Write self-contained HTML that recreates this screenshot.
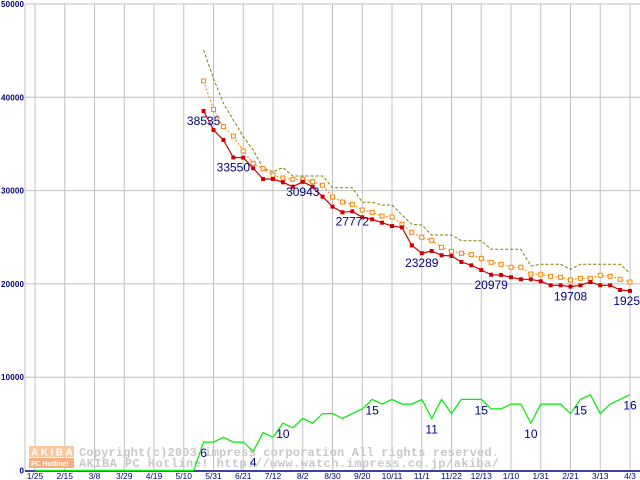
<!DOCTYPE html>
<html><head><meta charset="utf-8"><style>
body{margin:0;background:#fff}
svg{display:block}
text{font-family:"Liberation Sans",sans-serif}
</style></head><body>
<svg id="chart" width="640" height="480" viewBox="0 0 640 480" xmlns="http://www.w3.org/2000/svg">
<g id="grid"></g>
<g id="axes"></g>
<g id="wm">
 <rect x="29" y="446" width="45" height="11" fill="#f8c8a0"/>
 <rect x="29" y="458" width="45" height="10" fill="#f4b080"/>
 <text x="31" y="455.5" font-size="10" font-weight="bold" fill="#fff" letter-spacing="2.5">AKIBA</text>
 <text x="31" y="466" font-size="7" font-weight="bold" fill="#fff">PC Hotline!</text>
 <text x="79" y="456" font-size="12" font-weight="bold" fill="#c8c8c8" style="font-family:'Liberation Mono',monospace" textLength="420">Copyright(c)2003 impress corporation All rights reserved.</text>
 <text x="79" y="467" font-size="12" font-weight="bold" fill="#c8c8c8" style="font-family:'Liberation Mono',monospace" textLength="420">AKIBA PC Hotline!  http://www.watch.impress.co.jp/akiba/</text>
</g>
<g id="series"></g>
<g id="labels"></g>
</svg>
<script>
const xLabels=["1/25","2/15","3/8","3/29","4/19","5/10","5/31","6/21","7/12","8/2","8/30","9/20","10/11","11/1","11/22","12/13","1/10","1/31","2/21","3/13","4/3"];
const yTicks=[0,10000,20000,30000,40000,50000];
const startIndex=17;
const redVals=[38535,36490,35420,33550,33530,32390,31240,31240,30890,30420,30943,30420,29350,28280,27670,27772,27140,26920,26560,26200,26060,24130,23289,23530,23070,22990,22350,21990,21490,20979,20950,20710,20490,20490,20280,19850,19850,19708,19850,20200,19850,19850,19350,19250];
const orangeVals=[41750,38710,36850,35850,34240,32920,32350,31670,31350,31210,31210,30950,30570,29310,28780,28530,27920,27670,27280,27170,26390,25530,25000,24670,23920,23490,23280,23140,22740,22310,22100,21780,21780,21060,21030,20810,20710,20420,20600,20600,20920,20810,20490,20200];
const oliveVals=[45070,42030,39360,37570,35780,34350,32390,32030,32460,31570,31570,31570,31570,30310,30310,30310,28750,28750,28460,28460,27400,26390,26310,25240,25240,25240,24630,24630,24630,23710,23710,23710,23710,21920,22100,22100,22100,21560,22100,22100,22100,22100,22100,21140];
const greenCounts=[0,0,0,0,0,0,0,0,0,0,0,0,0,0,0,0,0,6,6,7,6,6,4,8,7,10,9,11,10,12,12,11,12,13,15,14,15,14,14,15,11,15,12,15,15,15,13,13,14,14,10,14,14,14,12,15,16,12,14,15,16];
const redLabelIdx=[0,3,10,15,22,29,37,43];
const greenLabelIdx=[17,22,25,34,40,45,50,55,60];
const greenUnit=508;

const NS="http://www.w3.org/2000/svg";
const xOf=i=>35+i*29.75/3;
const yOf=v=>470.5-v*93.3/10000;
function mk(tag,attrs,parent){const e=document.createElementNS(NS,tag);for(const k in attrs)e.setAttribute(k,attrs[k]);parent.appendChild(e);return e;}
const grid=document.getElementById('grid'),axes=document.getElementById('axes'),ser=document.getElementById('series'),lab=document.getElementById('labels');

yTicks.forEach(v=>{
 const y=yOf(v);
 if(v>0){const l=mk('line',{x1:25,x2:640,y1:y,y2:y,stroke:'#c0c0c0','stroke-width':1},grid);
 
 }
 const t=mk('text',{x:24,y:y+3,'text-anchor':'end','font-size':8,'font-weight':'bold',fill:'#000080',textLength:v===0?5:23},axes);
 t.textContent=v;
 
 
});
xLabels.forEach((s,k)=>{
 const x=35+k*29.75;
 const l=mk('line',{x1:x,x2:x,y1:4,y2:470,stroke:'#c0c0c0','stroke-width':1},grid);
 
 
 const t=mk('text',{x:x,y:479,'text-anchor':'middle','font-size':8.5,fill:'#000080'},axes);
 t.textContent=s;
 
 
});
const la=mk('line',{x1:25,x2:25,y1:4,y2:471,stroke:'#c0c0c0'},axes);


const ba=mk('line',{x1:25,x2:640,y1:471,y2:471,stroke:'#000080','stroke-width':1.5},axes);



function pts(vals,off,f){return vals.map((v,i)=>xOf(i+off).toFixed(1)+','+f(v).toFixed(1)).join(' ');}
const g=mk('polyline',{points:pts(greenCounts,0,c=>yOf(c*greenUnit)),fill:'none',stroke:'#00ee00','stroke-width':1.2},ser);


const ol=mk('polyline',{points:pts(oliveVals,startIndex,yOf),fill:'none',stroke:'#808000','stroke-width':1,'stroke-dasharray':'3,2'},ser);


const or=mk('polyline',{points:pts(orangeVals,startIndex,yOf),fill:'none',stroke:'#ff8000','stroke-width':1,'stroke-dasharray':'2,2'},ser);


orangeVals.forEach((v,i)=>{
 const r=mk('rect',{x:xOf(i+startIndex)-2,y:yOf(v)-2,width:4,height:4,fill:'#fff',stroke:'#ff8000','stroke-width':1},ser);
 
 
});
const rl=mk('polyline',{points:pts(redVals,startIndex,yOf),fill:'none',stroke:'#cc0000','stroke-width':1.2},ser);


redVals.forEach((v,i)=>{
 const r=mk('rect',{x:xOf(i+startIndex)-2,y:yOf(v)-2,width:4,height:4,fill:'#cc0000'},ser);
 
 
});
redLabelIdx.forEach(i=>{
 const t=mk('text',{x:xOf(i+startIndex),y:yOf(redVals[i])+14,'text-anchor':'middle','font-size':12,fill:'#000080'},lab);
 t.textContent=redVals[i];
 
 
});
greenLabelIdx.forEach(i=>{
 const t=mk('text',{x:xOf(i),y:yOf(greenCounts[i]*greenUnit)+15,'text-anchor':'middle','font-size':12,fill:'#000080'},lab);
 t.textContent=greenCounts[i];
 
 
});
</script>
</body></html>
